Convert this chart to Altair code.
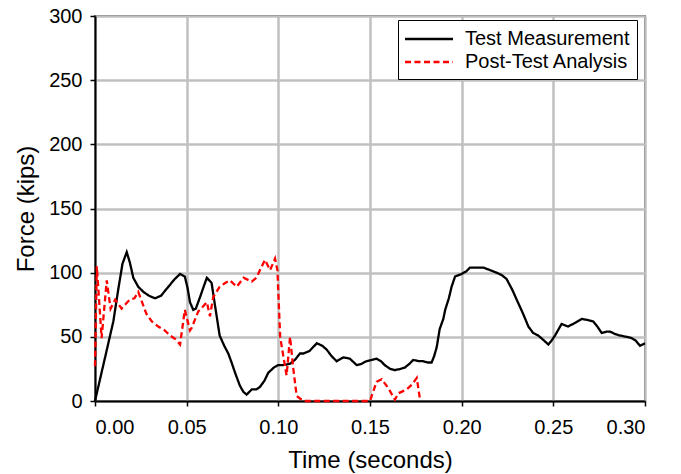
import altair as alt
import pandas as pd

# Test Measurement (black solid)
t_test = [0.000, 0.0055, 0.010, 0.0128, 0.0150, 0.0173, 0.0190, 0.0209, 0.0236, 0.0264, 0.0295, 0.0327,
          0.0360, 0.0400, 0.0435, 0.0464, 0.0490, 0.0505, 0.0518, 0.0536, 0.0550, 0.0573, 0.0595, 0.0610,
          0.0636, 0.0655, 0.0680, 0.0705, 0.0727, 0.0745, 0.0764, 0.0790, 0.0810, 0.0827, 0.0855, 0.0880,
          0.0900, 0.0925, 0.0945, 0.0975, 0.1000, 0.1027, 0.1064, 0.1090, 0.1118, 0.1136, 0.1170, 0.1210,
          0.1240, 0.1264, 0.1290, 0.1318, 0.1355, 0.1390, 0.1427, 0.1455, 0.1480, 0.1510, 0.1536, 0.1560,
          0.1580, 0.1610, 0.1636, 0.1665, 0.1690, 0.1715, 0.1736, 0.1765, 0.1790, 0.1815, 0.1836, 0.1850,
          0.1864, 0.1880, 0.1900, 0.1910, 0.1930, 0.1945, 0.1964, 0.2000, 0.2025, 0.2045, 0.2080, 0.2118,
          0.2155, 0.2190, 0.2220, 0.2245, 0.2275, 0.2300, 0.2335, 0.2364, 0.2390, 0.2418, 0.2450, 0.2473,
          0.2490, 0.2509, 0.2545, 0.2580, 0.2620, 0.2655, 0.2690, 0.2718, 0.2740, 0.2764, 0.2790, 0.2810,
          0.2840, 0.2864, 0.2900, 0.2927, 0.2950, 0.2973, 0.3000]
f_test = [0, 34, 62, 88, 107, 116, 108, 96, 89, 85, 82, 80,
          82, 89, 95, 99, 97, 88, 77, 71, 72, 81, 90, 96,
          92, 74, 51, 43, 37, 30, 22, 12, 7, 5, 9, 9,
          11, 16, 22, 26, 28, 28, 29, 32, 37, 37, 39, 45,
          43, 40, 35, 31, 34, 33, 28, 29, 31, 32, 33, 31,
          28, 25, 24, 25, 26, 29, 32, 31, 31, 30, 30, 35,
          42, 56, 64, 71, 80, 89, 97, 99, 101, 104, 104, 104,
          102, 100, 98, 95, 87, 79, 68, 58, 53, 51, 47, 44,
          47, 51, 60, 58, 61, 64, 63, 62, 58, 53, 54, 54,
          52, 51, 50, 49, 47, 43, 45]

# Post-Test Analysis (red dashed)
t_post = [0.000, 0.001, 0.0036, 0.0064, 0.0085, 0.0110, 0.0145, 0.0170, 0.0190, 0.0215, 0.0236,
          0.0280, 0.0310, 0.0345, 0.0380, 0.0410, 0.0440, 0.0464, 0.0490, 0.0518, 0.0527, 0.0564, 0.0573,
          0.0610, 0.0627, 0.0645, 0.0680, 0.0710, 0.0736, 0.0773, 0.0810, 0.0855, 0.0880, 0.0900, 0.0927,
          0.0955, 0.0982, 0.0995, 0.1010, 0.1027, 0.1045, 0.1064, 0.1080, 0.1100, 0.1136, 0.1300, 0.1500,
          0.1536, 0.1564, 0.1600, 0.1636, 0.1655, 0.1700, 0.1730, 0.1755, 0.1773]
f_post = [27, 105, 49, 94, 72, 79, 72, 76, 79, 80, 85,
          68, 62, 58, 55, 51, 48, 44, 71, 55, 57, 70, 71,
          77, 66, 81, 89, 92, 94, 89, 96, 93, 96, 102, 110,
          102, 111, 102, 50, 35, 20, 50, 27, 4, 0, 0, 0,
          15, 17, 10, 1, 6, 9, 13, 18, 1]

series_names = ["Test Measurement", "Post-Test Analysis"]

df = pd.concat([
    pd.DataFrame({"t": t_test, "f": f_test, "series": series_names[0], "order": range(len(t_test))}),
    pd.DataFrame({"t": t_post, "f": f_post, "series": series_names[1], "order": range(len(t_post))}),
])

font = "Liberation Sans"

chart = alt.Chart(df).mark_line(strokeWidth=2.3, interpolate="linear").encode(
    x=alt.X("t:Q", title="Time (seconds)",
            scale=alt.Scale(domain=[0, 0.3], nice=False),
            axis=alt.Axis(values=[0, 0.05, 0.1, 0.15, 0.2, 0.25, 0.3], format=".2f")),
    y=alt.Y("f:Q", title="Force (kips)",
            scale=alt.Scale(domain=[0, 300], nice=False),
            axis=alt.Axis(values=[0, 50, 100, 150, 200, 250, 300])),
    color=alt.Color("series:N", scale=alt.Scale(domain=series_names, range=["#000000", "#ff0000"]),
                    legend=alt.Legend(title=None, orient="none", legendX=303, legendY=4,
                                      symbolType="M-1.143,0H3.43", symbolSize=441, symbolStrokeWidth=2.3,
                                      labelFont=font, labelFontSize=20, labelColor="#000000",
                                      fillColor="white", strokeColor="#000000", padding=7,
                                      rowPadding=1, labelOffset=36,
                                      labelLimit=300)),
    strokeDash=alt.StrokeDash("series:N", scale=alt.Scale(domain=series_names, range=[[1, 0], [6, 3.5]]),
                              legend=None),
    order="order:Q",
).properties(
    width=550, height=385,
    padding={"left": 95, "top": 16, "right": 36, "bottom": 73},
    autosize=alt.AutoSizeParams(type="none"),
).configure_view(
    stroke="#000000", strokeWidth=1.5
).configure_axis(
    labelFont=font, titleFont=font, labelFontSize=20, titleFontSize=24,
    labelColor="#000000", titleColor="#000000", titleFontWeight="normal",
    gridColor="#c0c0c0", gridWidth=2.5, gridOpacity=1,
    domainColor="#000000", domainWidth=2, tickColor="#000000", tickSize=5, tickWidth=1.5,
    labelPadding=8,
).configure_axisX(
    titlePadding=11, labelPadding=11
).configure_axisY(
    titlePadding=10
)

chart.save("out.html", embed_options={"renderer": "svg", "actions": False})
